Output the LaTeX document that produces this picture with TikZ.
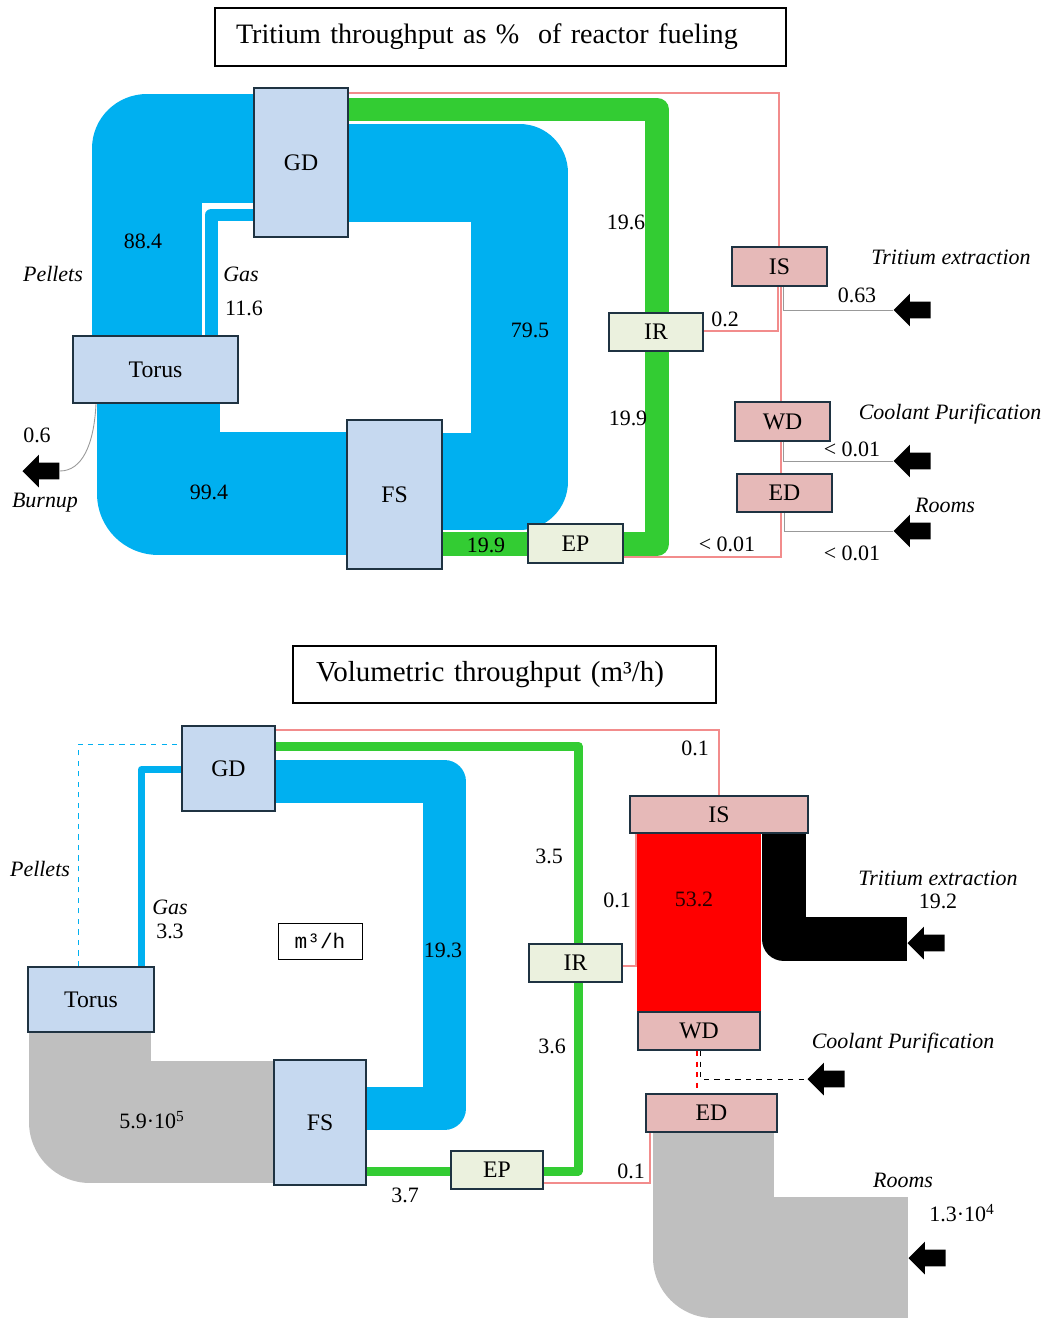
\documentclass[tikz,border=0pt]{standalone}
\usepackage{fontspec}
\setmainfont{Liberation Serif}
\newfontfamily\monofont{Liberation Mono}
\usetikzlibrary{shapes.arrows,backgrounds}

\definecolor{flowblue}{HTML}{00B0F0}
\definecolor{flowgreen}{HTML}{33CC33}
\definecolor{flowgray}{HTML}{BFBFBF}
\definecolor{boxblue}{HTML}{C6D9F0}
\definecolor{boxgreen}{HTML}{EBF1DE}
\definecolor{boxpink}{HTML}{E6B9B8}
\definecolor{boxline}{HTML}{1F3342}
\definecolor{thinred}{HTML}{F28C8C}

\begin{document}
\begin{tikzpicture}[
    x=0.02cm, y=-0.02cm,
    font=\fontsize{12.5}{14}\selectfont,
    unit/.style={draw=boxline, line width=1pt, inner sep=0pt, font=\fontsize{13.5}{15}\selectfont},
    hub/.style={unit, fill=boxblue},
    pump/.style={unit, fill=boxgreen, minimum width=1.88cm, minimum height=0.77cm},
    det/.style={unit, fill=boxpink, minimum height=0.77cm},
    headbox/.style={draw, line width=0.9pt, align=left, inner ysep=0pt, font=\fontsize{16}{19}\selectfont},
    band/.style={line join=round, line cap=butt},
    trace/.style={draw=thinred, line width=0.6pt},
    wire/.style={draw=gray!80, line width=0.5pt},
    outlet/.style={single arrow, fill=black, shape border rotate=180, minimum height=0.74cm, inner xsep=0pt, inner ysep=0.16cm, single arrow head extend=0.16cm, anchor=tip},
    lbl/.style={inner sep=0pt},
    site/.style={lbl, font=\fontsize{12.5}{14}\selectfont\itshape}
]
\useasboundingbox (0,0) rectangle (1048,1318);

% upper chart: tritium throughput
\node[headbox, text width=10.58cm, inner xsep=0.42cm, minimum height=1.16cm] (headA) at (500.5,37) {Tritium throughput as \%~ of reactor fueling};
\node[hub, minimum width=1.88cm, minimum height=2.98cm] (gdA) at (301,162.5) {GD};
\node[hub, minimum width=3.3cm, minimum height=1.34cm] (torusA) at (155.5,369.5) {Torus};
\node[hub, minimum width=1.9cm, minimum height=2.98cm] (fsA) at (394.5,494.5) {FS};
\node[pump] (irA) at (656,332) {IR};
\node[pump, minimum width=1.9cm] (epA) at (575.5,543.5) {EP};
\node[det, minimum width=1.9cm] (isA) at (779.5,266.5) {IS};
\node[det, minimum width=1.9cm] (wdA) at (782.5,421.5) {WD};
\node[det, minimum width=1.9cm] (edA) at (784.5,493) {ED};
\node[outlet] (exIsA) at (893,310) {};
\node[outlet] (exWdA) at (893,461) {};
\node[outlet] (exEdA) at (893,531) {};
\node[outlet] (burnA) at (22,471) {};

\node[lbl] (pelA) at (143,241) {88.4};
\node[site] (pelTxtA) at (53,274) {Pellets};
\node[site] (gasTxtA) at (241,274) {Gas};
\node[lbl] (gasA) at (244,308) {11.6};
\node[lbl] (burnValA) at (37,435) {0.6};
\node[site] (burnTxtA) at (45,503) {Burnup};
\node[lbl] (retA) at (209,492) {99.4};
\node[lbl] (gdFsA) at (530,330) {79.5};
\node[lbl] (gdIrA) at (626,222) {19.6};
\node[lbl] (irEpA) at (628,418) {19.9};
\node[lbl] (fsEpA) at (486,545) {19.9};
\node[lbl] (isIrA) at (725,319) {0.2};
\node[site] (exIsTxtA) at (951,257) {Tritium extraction};
\node[lbl] (exIsValA) at (857,295) {0.63};
\node[site] (exWdTxtA) at (950,414) {Coolant Purification};
\node[lbl] (exWdValA) at (852,449) {< 0.01};
\node[site] (exEdTxtA) at (945,505) {Rooms};
\node[lbl] (exEdValA) at (852,553) {< 0.01};
\node[lbl] (epIsA) at (727,544) {< 0.01};

% lower chart: volumetric throughput
\node[headbox, text width=7.54cm, inner xsep=0.46cm, minimum height=1.14cm, font=\fontsize{16.5}{19}\selectfont] (headB) at (504.5,674.5) {Volumetric throughput (m³/h)};
\node[hub, minimum width=1.86cm, minimum height=1.7cm] (gdB) at (228.5,768.5) {GD};
\node[hub, minimum width=2.52cm, minimum height=1.3cm] (torusB) at (91,999.5) {Torus};
\node[hub, minimum width=1.84cm, minimum height=2.5cm] (fsB) at (320,1122.5) {FS};
\node[pump, minimum width=1.86cm] (irB) at (575.5,963) {IR};
\node[pump, minimum width=1.84cm] (epB) at (497,1170) {EP};
\node[det, minimum width=3.56cm, minimum height=0.74cm] (isB) at (719,814.5) {IS};
\node[det, minimum width=2.44cm] (wdB) at (699,1031) {WD};
\node[det, minimum width=2.62cm] (edB) at (711.5,1113) {ED};
\node[draw, line width=0.5pt, minimum width=1.68cm, minimum height=0.72cm, font=\monofont\fontsize{12}{14}\selectfont] (unitB) at (320,941) {m³/h};
\node[outlet] (exIsB) at (907,943) {};
\node[outlet] (exWdB) at (807,1079) {};
\node[outlet] (exEdB) at (908,1258) {};

\node[site] (pelTxtB) at (40,869) {Pellets};
\node[site] (gasTxtB) at (170,907) {Gas};
\node[lbl] (gasB) at (170,931) {3.3};
\node[lbl] (gdFsB) at (443,950) {19.3};
\node[lbl] (gdIrB) at (549,856) {3.5};
\node[lbl] (irEpB) at (552,1046) {3.6};
\node[lbl] (fsEpB) at (405,1195) {3.7};
\node[lbl] (gdIsB) at (695,748) {0.1};
\node[lbl] (isIrB) at (617,900) {0.1};
\node[lbl] (epEdB) at (631,1171) {0.1};
\node[lbl, text=red!15!black] (isWdB) at (694,899) {53.2};
\node[lbl] (retB) at (152,1120) {5.9·10\textsuperscript{5}};
\node[site] (exIsTxtB) at (938,878) {Tritium extraction};
\node[lbl] (exIsValB) at (938,901) {19.2};
\node[site] (exWdTxtB) at (903,1043) {Coolant Purification};
\node[site] (exEdTxtB) at (903,1180) {Rooms};
\node[lbl] (exEdValB) at (962,1213) {1.3·10\textsuperscript{4}};

\begin{scope}[on background layer]
\fill[white] (0,0) rectangle (1048,1318);
\draw[band, flowblue, line width=2.2cm] (147,0 |- torusA.north) -- (147,148.5) -- (gdA.west |- 0,148.5);
\draw[band, flowblue, line width=0.26cm] (211.5,0 |- torusA.north) -- (211.5,215) -- (gdA.west |- 0,215);
\draw[band, flowblue, line width=2.48cm] (158.5,0 |- torusA.south) -- (158.5,493.5) -- (fsA.west |- 0,493.5);
\draw[band, flowblue, line width=1.96cm] (gdA.east |- 0,173) -- (519.5,173) -- (519.5,481.5) -- (fsA.east |- 0,481.5);
\draw[band, flowgreen, line width=0.48cm] (gdA.east |- 0,109.5) -- (657,109.5) -- (657,544) -- (fsA.east |- 0,544);
\draw[trace] (gdA.east |- 0,93) -- (779,93) -- (779,0 |- isA.north);
\draw[trace] (778,0 |- isA.south) -- (778,331) -- (irA.east |- 0,331);
\draw[trace] (epA.east |- 0,557) -- (781,557) -- (781,0 |- isA.south);
\draw[wire] (783,0 |- isA.south) -- (783,310) -- (exIsA.tip);
\draw[wire] (783,0 |- wdA.south) -- (783,461) -- (exWdA.tip);
\draw[wire] (784,0 |- edA.south) -- (784,531) -- (exEdA.tip);
\draw[wire] (96,0 |- torusA.south) .. controls (94,445) and (82,471) .. (burnA.tail);

\draw[flowblue, dashed, line width=0.5pt] (78,0 |- torusB.north) -- (78,744) -- (gdB.west |- 0,744);
\draw[band, flowblue, line width=0.14cm] (141.5,0 |- torusB.north) -- (141.5,769.5) -- (gdB.west |- 0,769.5);
\draw[band, flowblue, line width=0.86cm] (gdB.east |- 0,781.5) -- (444.5,781.5) -- (444.5,1108.5) -- (fsB.east |- 0,1108.5);
\draw[band, flowgray, line width=2.44cm] (90,0 |- torusB.south) -- (90,1122) -- (fsB.west |- 0,1122);
\draw[band, flowgreen, line width=0.18cm] (gdB.east |- 0,746) -- (578,746) -- (578,1171) -- (fsB.east |- 0,1171);
\fill[red] (wdB.north west) rectangle (wdB.north east |- isB.south);
\draw[band, black, line width=0.88cm] (783.5,0 |- isB.south) -- (783.5,939) -- (exIsB.tip |- 0,939);
\draw[band, flowgray, line width=2.42cm] (713.5,0 |- edB.south) -- (713.5,1257.5) -- (exEdB.tip |- 0,1257.5);
\draw[trace] (gdB.east |- 0,730) -- (isB.north |- 0,730) -- (isB.north);
\draw[trace] (636,0 |- isB.south) -- (636,966) -- (irB.east |- 0,966);
\draw[trace] (epB.east |- 0,1183) -- (650,1183) -- (650,0 |- edB.south);
\draw[trace, draw=red, dashed] (697,0 |- wdB.south) -- (697,0 |- edB.north);
\draw[dashed, line width=0.5pt] (700,0 |- wdB.south) -- (700,1079) -- (exWdB.tip);
\end{scope}
\end{tikzpicture}
\end{document}
